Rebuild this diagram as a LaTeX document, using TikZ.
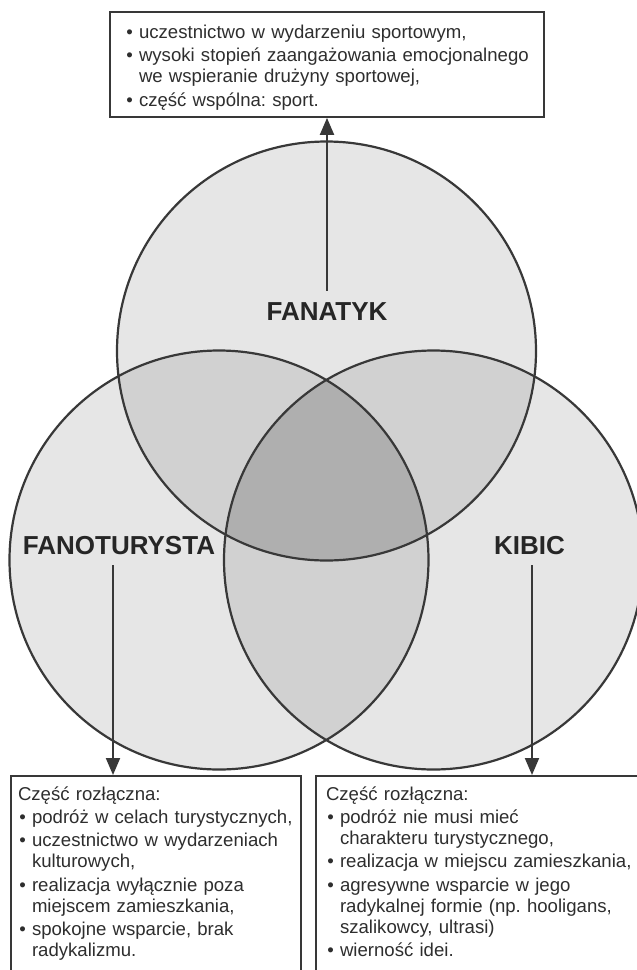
\documentclass[tikz,border=0pt]{standalone}
\usepackage{fontspec}
\setmainfont{Liberation Sans}
\usepackage{enumitem}
\usetikzlibrary{positioning,arrows.meta,calc}
\frenchspacing

\definecolor{venA}{HTML}{E6E6E6}
\definecolor{venB}{HTML}{D1D1D1}
\definecolor{venC}{HTML}{AFAFAF}
\definecolor{edgec}{HTML}{383838}
\definecolor{txtc}{HTML}{2E2E2E}

\newlist{kropki}{itemize}{1}
\setlist[kropki]{label=\textbullet,leftmargin=14pt,labelsep=6pt,itemsep=2.5pt,parsep=0pt,topsep=2pt,partopsep=0pt}

\tikzset{
	lab/.style={font=\fontsize{26}{30}\selectfont\bfseries,text=black!85,inner xsep=0pt,inner ysep=10pt,text height=18.7pt,text depth=0pt},
	infobox/.style={draw=edgec,line width=2pt,fill=white,text=txtc,font=\fontsize{18.6}{21}\selectfont,align=left,anchor=north west,inner ysep=10.5pt},
	arr/.style={draw=edgec,line width=2pt,-{Triangle[length=17pt,width=14pt]}},
}

\begin{document}
\begin{tikzpicture}[x=1pt,y=-1pt,line width=2.2]
		\def\W{637}
		\def\H{970}
		\def\rad{209.5pt}
		\useasboundingbox (0,0) rectangle (\W,\H);
		\fill[white] (0,0) rectangle (\W,\H);
		\clip (0,0) rectangle (\W,\H);

		\coordinate (cT) at (326.5,351);
		\coordinate (cL) at (219,560);
		\coordinate (cR) at (433.5,560);

		%circles
		\foreach \c in {cT,cL,cR}{
			\fill[venA] (\c) circle (\rad);
		}
		\begin{scope}
			\clip (cT) circle (\rad);
			\fill[venB] (cL) circle (\rad);
			\fill[venB] (cR) circle (\rad);
		\end{scope}
		\begin{scope}
			\clip (cL) circle (\rad);
			\fill[venB] (cR) circle (\rad);
		\end{scope}
		%common part
		\begin{scope}
			\clip (cT) circle (\rad);
			\clip (cL) circle (\rad);
			\fill[venC] (cR) circle (\rad);
		\end{scope}
		\foreach \c in {cT,cL,cR}{
			\draw[edgec] (\c) circle (\rad);
		}

		\node[lab] (fanatyk) at (327,311) {FANATYK};
		\node[lab] (fano) at (119,545) {FANOTURYSTA};
		\node[lab] (kibic) at (529.5,545) {KIBIC};

		%boxes
		\node[infobox,text width=404pt,inner xsep=15pt,inner ysep=3pt] (topbox) at (109,11) {%
			\begin{kropki}
				\item uczestnictwo w wydarzeniu sportowym,
				\item wysoki stopień zaangażowania emocjonalnego\\we wspieranie drużyny sportowej,
				\item część wspólna: sport.
			\end{kropki}\par\kern2pt};
		\node[infobox,text width=276pt,inner xsep=7pt] (lbox) at (10,775) {%
			Część rozłączna:
			\begin{kropki}
				\item podróż w celach turystycznych,
				\item uczestnictwo w wydarzeniach\\kulturowych,
				\item realizacja wyłącznie poza\\miejscem zamieszkania,
				\item spokojne wsparcie, brak\\radykalizmu.
			\end{kropki}
			\rule{0pt}{30pt}};
		\node[infobox,text width=330pt,inner xsep=10pt] (rbox) at (315,775) {%
			Część rozłączna:
			\begin{kropki}
				\item podróż nie musi mieć\\charakteru turystycznego,
				\item realizacja w miejscu zamieszkania,
				\item agresywne wsparcie w jego\\radykalnej formie (np. hooligans,\\szalikowcy, ultrasi)
				\item wierność idei.
			\end{kropki}
			\rule{0pt}{30pt}};

		\draw[arr] (fanatyk.north) -- (fanatyk.north |- topbox.south);
		\draw[arr] ([xshift=-6pt]fano.south) -- ([xshift=-6pt]fano.south |- lbox.north);
		\draw[arr] ([xshift=2.5pt]kibic.south) -- ([xshift=2.5pt]kibic.south |- rbox.north);
	\end{tikzpicture}
\end{document}
